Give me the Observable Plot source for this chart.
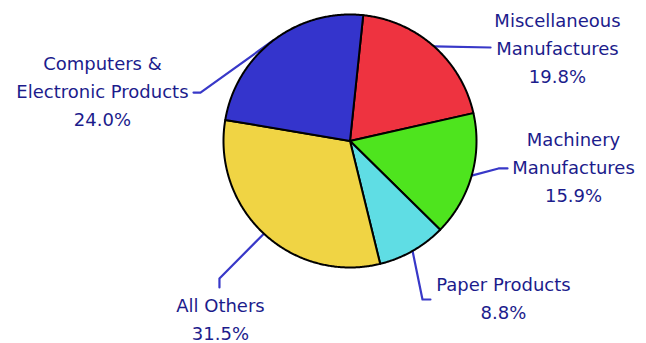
<!DOCTYPE html>
<html><head><meta charset="utf-8">
<script src="https://cdn.jsdelivr.net/npm/d3@7"></script>
<script src="https://cdn.jsdelivr.net/npm/@observablehq/plot@0.6"></script>
<style>body{margin:0;background:#fff}#chart svg{display:block}</style>
</head><body><div id="chart"></div>
<script>
// ---- data ----
const categories = ["Miscellaneous Manufactures", "Machinery Manufactures", "Paper Products", "All Others", "Computers & Electronic Products"];
const shares = [19.8, 15.9, 8.8, 31.5, 24.0];
const labelText = ["Miscellaneous\nManufactures", "Machinery\nManufactures", "Paper Products", "All Others", "Computers &\nElectronic Products"];
const sliceColors = ["#ee3340", "#4ee41e", "#5fdde4", "#f0d444", "#3434cc"];

// ---- layout (in pie-radius units, y up) ----
const startDeg = 6;
const labelPos = [[1.640, 0.749], [1.767, -0.187], [1.213, -1.227], [-1.024, -1.393], [-1.957, 0.409]];
const leaderBends = [
  [[1.111, 0.739]],
  [[1.174, -0.217], [1.245, -0.217]],
  [[0.573, -1.253], [0.636, -1.253]],
  [[-1.032, -1.087], [-1.032, -1.158]],
  [[-1.182, 0.383], [-1.237, 0.383]]
];

const a0 = startDeg * Math.PI / 180;
const arcs = d3.pie().sort(null).value(d => d).startAngle(a0).endAngle(a0 + 2 * Math.PI)(shares);

const slicePts = [];
arcs.forEach((a, i) => {
  const name = categories[i];
  slicePts.push({name, x: 0, y: 0});
  const n = Math.max(2, Math.ceil((a.endAngle - a.startAngle) / (Math.PI / 360)));
  for (let k = 0; k <= n; k++) {
    const t = a.startAngle + (a.endAngle - a.startAngle) * k / n;
    slicePts.push({name, x: Math.sin(t), y: Math.cos(t)});
  }
  slicePts.push({name, x: 0, y: 0});
});

const leaderPts = [];
arcs.forEach((a, i) => {
  const m = (a.startAngle + a.endAngle) / 2;
  leaderPts.push({name: categories[i], x: Math.sin(m), y: Math.cos(m)});
  leaderBends[i].forEach(([x, y]) => leaderPts.push({name: categories[i], x, y}));
});

const labels = categories.map((c, i) => ({
  name: c,
  text: labelText[i] + "\n" + shares[i].toFixed(1) + "%",
  x: labelPos[i][0],
  y: labelPos[i][1]
}));

const chart = Plot.plot({
  width: 646,
  height: 343,
  marginLeft: 223,
  marginRight: 170,
  marginTop: 14,
  marginBottom: 76,
  x: {domain: [-1, 1], axis: null},
  y: {domain: [-1, 1], axis: null},
  color: {domain: categories, range: sliceColors},
  style: {background: "#fff", fontFamily: "DejaVu Sans", overflow: "visible"},
  marks: [
    Plot.line(leaderPts, {x: "x", y: "y", z: "name", stroke: "#3838c8", strokeWidth: 2.2}),
    Plot.line(slicePts, {x: "x", y: "y", z: "name", fill: "name", stroke: "black", strokeWidth: 2, strokeLinejoin: "round"}),
    Plot.text(labels, {x: "x", y: "y", text: "text", fill: "#1c1c8c", fontSize: 18, lineHeight: 1.56, textAnchor: "middle", fontFamily: "DejaVu Sans"})
  ]
});
document.getElementById("chart").appendChild(chart);
</script>
</body></html>
